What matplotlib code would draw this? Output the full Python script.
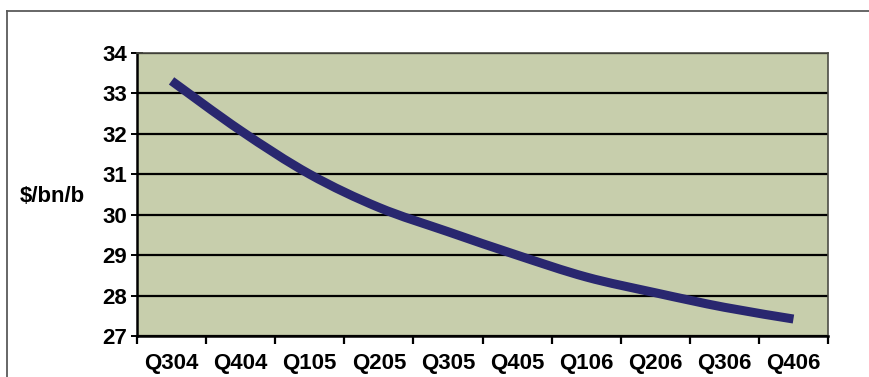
import matplotlib.pyplot as plt
from matplotlib.lines import Line2D
from matplotlib.path import Path
from matplotlib.patches import PathPatch

# quarterly values, $/bn/b
quarters = ["Q304", "Q404", "Q105", "Q205", "Q305", "Q405", "Q106", "Q206", "Q306", "Q406"]
values = [33.31, 32.08, 31.00, 30.18, 29.58, 29.00, 28.46, 28.07, 27.71, 27.42]
yticks = [27, 28, 29, 30, 31, 32, 33, 34]

plt.rcParams['font.family'] = ['Liberation Sans', 'DejaVu Sans']
plt.rcParams['font.weight'] = 'bold'

W, H = 869, 377
fig = plt.figure(figsize=(W / 100, H / 100), dpi=100)
fig.patch.set_facecolor('white')

# outer chart border: left and top edges
frame_y = (H - 11) / H
fig.add_artist(Line2D([7 / W, 7 / W], [0, frame_y], transform=fig.transFigure,
                      color='#5a5a5a', linewidth=1.3))
fig.add_artist(Line2D([7 / W, 1], [frame_y, frame_y], transform=fig.transFigure,
                      color='#5a5a5a', linewidth=1.3))

ax = fig.add_axes([137 / W, (H - 336) / H, (828 - 137) / W, (336 - 53) / H])
ax.set_facecolor('#c7ceac')

# smoothed line through the points (Catmull-Rom as cubic Bezier segments)
x = list(range(len(quarters)))
pts = list(zip(x, values))
verts = [pts[0]]
codes = [Path.MOVETO]
n = len(pts)
for i in range(n - 1):
    p0 = pts[max(i - 1, 0)]
    p1 = pts[i]
    p2 = pts[i + 1]
    p3 = pts[min(i + 2, n - 1)]
    c1 = (p1[0] + (p2[0] - p0[0]) / 6, p1[1] + (p2[1] - p0[1]) / 6)
    c2 = (p2[0] - (p3[0] - p1[0]) / 6, p2[1] - (p3[1] - p1[1]) / 6)
    verts += [c1, c2, p2]
    codes += [Path.CURVE4] * 3
curve = PathPatch(Path(verts, codes), facecolor='none', edgecolor='#29276f',
                  linewidth=6.5, capstyle='butt', joinstyle='round', zorder=3)
ax.add_patch(curve)

ax.set_xlim(-0.5, len(quarters) - 0.5)
ax.set_ylim(27, 34)

# horizontal gridlines
ax.set_yticks(yticks)
ax.yaxis.grid(True, color='black', linewidth=1.6)
ax.set_axisbelow(True)

# ticks between categories, labels centred on them
ax.set_xticks([i - 0.5 for i in range(len(quarters) + 1)])
ax.set_xticklabels([])
ax.set_xticks(x, minor=True)
ax.set_xticklabels(quarters, minor=True, fontsize=16, fontweight='bold')
ax.tick_params(axis='x', which='major', direction='out', length=6, width=1.6, color='black')
ax.tick_params(axis='x', which='minor', length=0, pad=12)
ax.tick_params(axis='y', direction='inout', length=8, width=1.4, pad=3, labelsize=16)

for side in ['left', 'bottom']:
    ax.spines[side].set_color('black')
    ax.spines[side].set_linewidth(1.8)
for side in ['top', 'right']:
    ax.spines[side].set_color('#4d4d45')
    ax.spines[side].set_linewidth(1.2)

fig.text(20 / W, (H - 197) / H, "$/bn/b", fontsize=16, fontweight='bold',
         ha='left', va='center')

fig.savefig('out.png', dpi=100)
